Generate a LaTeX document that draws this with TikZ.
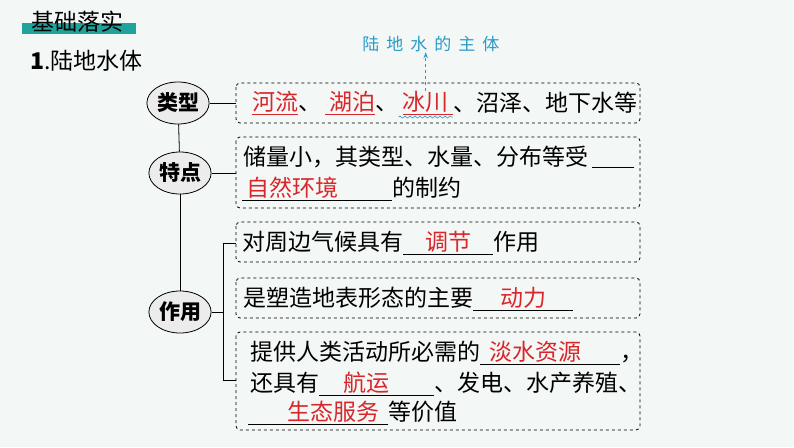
\documentclass[tikz,border=0pt]{standalone}
\usepackage{fontspec}
\setmainfont{Noto Sans CJK SC}
\usetikzlibrary{positioning,shapes.geometric,decorations.pathmorphing,arrows.meta}
\definecolor{bg}{HTML}{F3F7F5}
\definecolor{teal}{HTML}{1FA39A}
\definecolor{ans}{HTML}{D9262B}
\definecolor{note}{HTML}{2A9BC9}
\newcommand{\blank}[2]{\underline{\makebox[#1pt]{\color{ans}#2}}}
\tikzset{
  topic/.style={draw, ellipse, fill=gray!15, inner sep=1pt, minimum width=62pt, minimum height=42pt, font=\fontsize{21}{24}\selectfont\bfseries},
  dbox/.style={draw, dashed, rounded corners=4pt, line width=0.8pt},
  line/.style={anchor=west, inner sep=0pt, font=\fontsize{23}{26}\selectfont}
}
\begin{document}
\begin{tikzpicture}[x=1pt, y=-1pt, line width=0.8pt]
  \fill[bg] (0,0) rectangle (794,447);
  \useasboundingbox (0,0) rectangle (794,447);

  % header
  \fill[teal] (22,23) rectangle (136,34);
  \node[line, font=\fontsize{23}{26}\selectfont] (head) at (31,22) {基础落实};
  \node[line, font=\fontsize{23}{26}\selectfont] (title) at (30,61) {\textbf{1}.陆地水体};

  % topics
  \node[topic] (kind) at (178,103) {类型};
  \node[topic] (feat) at (180,173) {特点};
  \node[topic] (use) at (180,312) {作用};

  % boxes
  \draw[dbox] (236,83) rectangle (640,123);
  \draw[dbox] (236,137) rectangle (640,208);
  \draw[dbox] (236,222) rectangle (640,262);
  \draw[dbox] (236,278) rectangle (640,318);
  \draw[dbox] (236,332) rectangle (640,430);

  % connectors
  \draw (kind) -- (236,103);
  \draw (feat) -- (236,173);
  \draw (kind) -- (feat);
  \draw (feat) -- (use);
  \draw (use) -- (223,312);
  \draw (236,243) -- (223,243) -- (223,380) -- (236,380);

  % box texts
  \node[line] (t1) at (252,103) {{\color{ans}\underline{河流}}、\,{\color{ans}\underline{\,湖泊}}、};
  \node[line, text=ans] (ice) at (t1.east) {\,\underline{冰川\,}};
  \node[line] (t1c) at (ice.east) {、沼泽、地下水等};
  \draw[note, line width=0.6pt, decorate, decoration={snake, amplitude=1pt, segment length=5pt}] ([yshift=-2pt]ice.south west) -- ([yshift=-2pt]ice.south east);
  \node[line] (t2) at (243,157) {储量小，其类型、水量、分布等受\,\underline{\makebox[42pt]{}}};
  \node[line] (t3) at (242,189) {\blank{150}{自然环境\hspace{50pt}}的制约};
  \node[line] (t4) at (242,243) {对周边气候具有\blank{90}{调节}作用};
  \node[line] (t5) at (243,299) {是塑造地表形态的主要\blank{100}{动力}};
  \node[line] (t6) at (250,353) {提供人类活动所必需的\blank{140}{淡水资源\hspace{30pt}}，};
  \node[line] (t7) at (250,384) {还具有\blank{115}{航运\hspace{20pt}}、发电、水产养殖、};
  \node[line] (t8) at (248,413) {\blank{140}{\hspace{30pt}生态服务}等价值};

  % note
  \node[line, text=note, font=\fontsize{17}{20}\selectfont] (main) at (362,44) {陆\hspace{7pt}地\hspace{7pt}水\hspace{7pt}的\hspace{7pt}主\hspace{7pt}体};
  \draw[note, dashed, -{Stealth[length=6pt]}] (ice.north) -- (ice.north |- main.south);
\end{tikzpicture}
\end{document}
